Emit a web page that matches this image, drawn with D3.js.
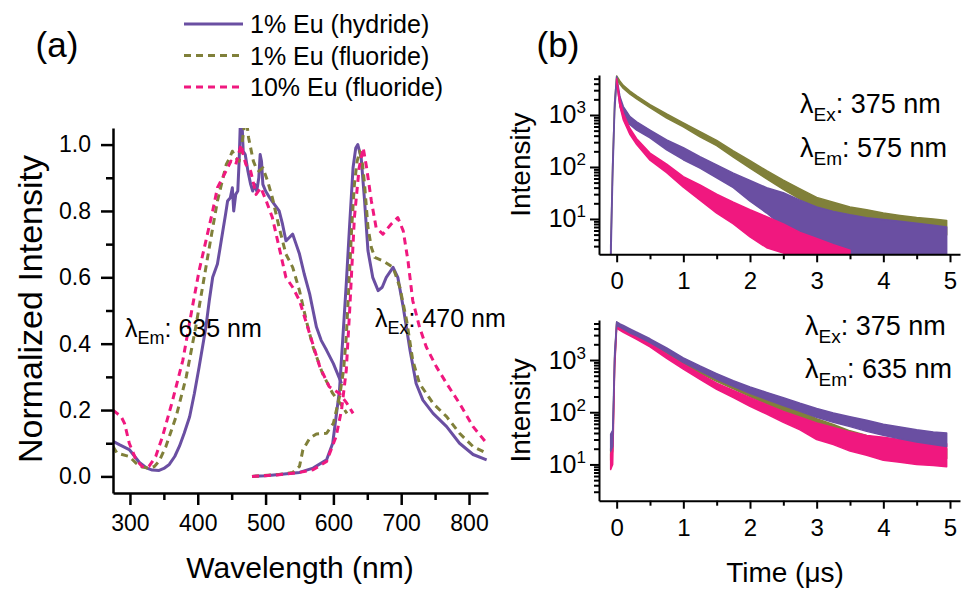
<!DOCTYPE html>
<html><head><meta charset="utf-8">
<script src="https://cdn.jsdelivr.net/npm/d3@7"></script>
<style>
body{margin:0;background:#fff}
svg{display:block}
text{font-family:"Liberation Sans",Arial,sans-serif;fill:#000}
</style>
</head><body>
<svg id="c" width="963" height="590"></svg>
<script>
// ---------------- Data: panel (a) ----------------
const seriesNames = ["1% Eu (hydride)", "1% Eu (fluoride)", "10% Eu (fluoride)"];

const hydrideExWl  = [275,285,299,314,325,333,343,350,358,366,373,380,388,395,402,407,412,417,422,429,433,437,441,444,448,451,453,456,459,461,463,465,467,470,474,478,481,484,487,490,492,494,496,500,506,513,520,525,530,535,540,545,550,557,565,570,575,582,590,600,612];
const hydrideExVal = [0.106,0.095,0.081,0.042,0.025,0.019,0.018,0.024,0.036,0.06,0.091,0.13,0.18,0.25,0.33,0.39,0.45,0.53,0.60,0.64,0.69,0.74,0.79,0.83,0.84,0.87,0.80,0.85,0.86,0.95,1.08,1.08,0.98,0.97,0.92,0.88,0.86,0.88,0.86,0.90,0.97,0.95,0.88,0.86,0.84,0.82,0.80,0.76,0.71,0.72,0.73,0.70,0.67,0.61,0.55,0.50,0.45,0.41,0.38,0.34,0.28];
const hydrideEmWl  = [480,500,520,550,570,590,599,604,609,614,619,624,629,633,636,641,646,651,658,666,672,678,688,695,703,713,722,732,747,767,786,806,826];
const hydrideEmVal = [0.0,0.002,0.006,0.012,0.025,0.05,0.10,0.18,0.26,0.42,0.58,0.76,0.93,0.99,1.0,0.96,0.83,0.68,0.60,0.56,0.57,0.60,0.63,0.60,0.51,0.38,0.28,0.23,0.19,0.15,0.10,0.066,0.05];

const fluoride1ExWl  = [275,281,299,309,318,328,336,343,353,368,383,397,407,417,429,442,447,451,456,461,465,469,472,475,478,482,486,490,496,503,510,520,530,540,550,560,570,584,599,610,620];
const fluoride1ExVal = [0.09,0.07,0.06,0.04,0.028,0.025,0.03,0.046,0.09,0.18,0.30,0.45,0.57,0.69,0.83,0.94,0.96,0.98,0.96,0.95,1.0,1.06,1.07,1.02,0.99,0.95,0.93,0.92,0.93,0.89,0.84,0.75,0.67,0.63,0.56,0.47,0.39,0.31,0.25,0.22,0.19];
const fluoride1EmWl  = [480,520,540,550,555,565,575,590,600,609,615,619,623,627,631,635,639,643,646,651,656,661,673,688,698,708,717,727,747,767,786,806,826];
const fluoride1EmVal = [0.0,0.006,0.012,0.03,0.08,0.115,0.128,0.13,0.16,0.24,0.32,0.42,0.58,0.75,0.88,0.95,0.98,0.94,0.88,0.75,0.69,0.66,0.65,0.63,0.57,0.47,0.35,0.28,0.22,0.18,0.13,0.09,0.07];

const fluoride10ExWl  = [275,281,287,292,299,309,318,328,338,348,363,378,392,402,412,422,429,439,449,456,460,464,467,471,478,486,493,501,510,520,530,540,550,565,580,594,609,620,629];
const fluoride10ExVal = [0.20,0.19,0.18,0.16,0.10,0.05,0.03,0.03,0.06,0.12,0.23,0.35,0.51,0.62,0.71,0.80,0.87,0.91,0.95,0.94,0.97,1.0,0.97,0.94,0.92,0.85,0.87,0.83,0.78,0.69,0.60,0.57,0.53,0.43,0.33,0.27,0.25,0.22,0.19];
const fluoride10EmWl  = [480,520,550,570,590,604,612,619,624,631,638,644,649,656,663,673,685,695,703,710,717,727,737,752,767,786,806,826];
const fluoride10EmVal = [0.0,0.005,0.012,0.02,0.045,0.12,0.20,0.32,0.50,0.78,0.93,0.99,0.93,0.83,0.75,0.73,0.76,0.78,0.74,0.65,0.53,0.45,0.39,0.33,0.28,0.22,0.15,0.10];

const wlTicks = [300,400,500,600,700,800];
const wlMinor = [350,450,550,650,750];
const normTicks = [0,0.2,0.4,0.6,0.8,1.0];
const normMinor = [0.1,0.3,0.5,0.7,0.9];

// ---------------- Data: panel (b) ----------------
const timeTop = [-0.09,-0.06,-0.03,0,0.05,0.1,0.2,0.3,0.5,0.75,1,1.25,1.5,1.75,2,2.25,2.5,2.75,3,3.25,3.5,3.75,4,4.25,4.5,4.75,4.95];
const hydrideTopLo = [1,60,1200,4500,1450,930,650,510,363,214,138,95,62,40,22,13,7,4,1,1,1,1,1,1,1,1,1];
const hydrideTopHi = [3,120,1800,5500,2240,1450,930,740,513,331,234,158,110,76,55,40,32,23,17,14,12,10.5,9.8,9,8.3,7.6,7.0];
const fluoride1TopLo = [1.8,89,1413,4898,3890,3236,2512,2042,1380,871,589,380,257,155,95,59,37,24,16,12,9.5,8,6.9,6.2,5.6,5.2,4.9];
const fluoride1TopHi = [2.2,112,1778,5623,4467,3715,2884,2344,1585,1047,708,479,324,204,132,85,56,38,26,21,17,15,13,11.7,10.7,10,9.3];
const fluoride10TopLo = [null,null,null,4300,1450,800,420,270,135,78,41,23,13,8,4.5,2.8,2.2,2.1,2.1,2.1,2.1,null,null,null,null,null,null];
const fluoride10TopHi = [null,null,null,5000,1900,1080,550,350,185,113,65,45,30,21,15,11,8,5.5,4.2,3.2,2.5,null,null,null,null,null,null];

const timeBot = [-0.09,-0.06,-0.03,0,0.05,0.1,0.2,0.3,0.5,0.75,1,1.25,1.5,1.75,2,2.25,2.5,2.75,3,3.25,3.5,3.75,4,4.25,4.5,4.75,4.95];
const hydrideBotLo = [18,22,900,4600,4250,3900,3300,2900,2150,1420,900,620,430,315,230,175,135,104,80,64,53,43,36,31,27,24,22];
const hydrideBotHi = [38,45,1400,5400,4900,4600,3950,3400,2550,1700,1100,770,550,400,305,240,190,148,118,97,82,70,59,52,46,42,40];
const fluoride1BotLo = [12,18,800,4500,4000,3700,3150,2700,2000,1290,830,560,390,280,200,145,105,76,53,40,30,24,20,17.5,15.5,14,13];
const fluoride1BotHi = [20,30,1200,5300,4600,4300,3800,3250,2400,1550,1000,680,470,340,250,182,138,104,75,58,44,36,30,26,23,21,20];
const fluoride10BotLo = [8,10,700,4100,3700,3400,2900,2500,1780,1080,670,425,275,190,130,92,64,46,30,24,18,15,12,11,10,9.5,9];
const fluoride10BotHi = [16,20,1100,4900,4400,4050,3400,2950,2100,1300,830,540,360,260,190,140,103,80,62,51,42,36,33,30,28,26,25];

const timeTicks = [0,1,2,3,4,5];
const timeMinor = [0.5,1.5,2.5,3.5,4.5];
const logTicks = [10,100,1000];
const logMinor = [3,4,5,6,7,8,9,20,30,40,50,60,70,80,90,200,300,400,500,600,700,800,900,2000,3000,4000,5000];

// ---------------- Styles ----------------
const COL = ["#6A4FA2", "#80803A", "#F0187F"];
const DASH = [null, "7,5", "7,5"];
const FF = '"Liberation Sans",Arial,sans-serif';

const svg = d3.select("#c");

function styleAxis(g, w) {
  g.select(".domain").attr("stroke", "#000").attr("stroke-width", w);
  g.selectAll(".tick line").attr("stroke", "#000").attr("stroke-width", w);
}

// ================= Panel (a) =================
const xA = d3.scaleLinear().domain([275, 828]).range([113, 488]);
const yA = d3.scaleLinear().domain([-0.05, 1.05]).range([493, 128]);

svg.append("clipPath").attr("id", "clipA").append("rect")
  .attr("x", xA.range()[0]).attr("y", yA.range()[1])
  .attr("width", xA.range()[1] - xA.range()[0]).attr("height", yA.range()[0] - yA.range()[1]);

const lineA = d3.line().x(d => xA(d[0])).y(d => yA(d[1]));
const specA = [
  [[hydrideExWl, hydrideExVal], [hydrideEmWl, hydrideEmVal]],
  [[fluoride1ExWl, fluoride1ExVal], [fluoride1EmWl, fluoride1EmVal]],
  [[fluoride10ExWl, fluoride10ExVal], [fluoride10EmWl, fluoride10EmVal]]
];
const gA = svg.append("g").attr("clip-path", "url(#clipA)");
specA.forEach((parts, i) => {
  parts.forEach(([w, v]) => {
    gA.append("path").attr("d", lineA(d3.zip(w, v)))
      .attr("fill", "none").attr("stroke", COL[i]).attr("stroke-width", 3)
      .attr("stroke-linejoin", "round")
      .attr("stroke-dasharray", DASH[i]);
  });
});

// axes (a)
const axAx = svg.append("g").attr("transform", `translate(0,${yA.range()[0]})`)
  .call(d3.axisBottom(xA).tickValues(wlTicks).tickSize(12).tickSizeOuter(0).tickPadding(10).tickFormat(d3.format("d")));
const axAxm = svg.append("g").attr("transform", `translate(0,${yA.range()[0]})`)
  .call(d3.axisBottom(xA).tickValues(wlMinor).tickSize(7).tickFormat(""));
axAxm.select(".domain").remove();
const axAy = svg.append("g").attr("transform", `translate(${xA.range()[0]},0)`)
  .call(d3.axisLeft(yA).tickValues(normTicks).tickSize(12).tickSizeOuter(0).tickPadding(10).tickFormat(d3.format(".1f")));
const axAym = svg.append("g").attr("transform", `translate(${xA.range()[0]},0)`)
  .call(d3.axisLeft(yA).tickValues(normMinor).tickSize(7).tickFormat(""));
axAym.select(".domain").remove();
[axAx, axAxm, axAy, axAym].forEach(g => styleAxis(g, 2.5));
[axAx, axAy].forEach(g => g.selectAll(".tick text").attr("font-size", 23).attr("font-family", FF).attr("fill", "#000"));

svg.append("text").attr("x", 300).attr("y", 578).attr("text-anchor", "middle").attr("font-size", 30).text("Wavelength (nm)");
svg.append("text").attr("transform", "translate(42,309) rotate(-90)").attr("text-anchor", "middle").attr("font-size", 34).text("Normalized Intensity");
svg.append("text").attr("x", 57).attr("y", 57).attr("text-anchor", "middle").attr("font-size", 35).text("(a)");
svg.append("text").attr("x", 558).attr("y", 57).attr("text-anchor", "middle").attr("font-size", 35).text("(b)");

function lambdaLabel(x, y, sub, rest, size) {
  const t = svg.append("text").attr("x", x).attr("y", y).attr("font-size", size);
  t.append("tspan").text("λ");
  t.append("tspan").attr("font-size", Math.round(size * 0.7)).attr("dy", Math.round(size * 0.28)).text(sub);
  t.append("tspan").attr("dy", -Math.round(size * 0.28)).text(rest);
}
lambdaLabel(125, 337, "Em", ": 635 nm", 25);
lambdaLabel(375, 327, "Ex", ": 470 nm", 25);

// legend
const leg = svg.append("g");
seriesNames.forEach((name, i) => {
  const yy = 24 + i * 31.5;
  leg.append("line").attr("x1", 184).attr("x2", 243).attr("y1", yy).attr("y2", yy)
    .attr("stroke", COL[i]).attr("stroke-width", 3).attr("stroke-dasharray", DASH[i]);
  leg.append("text").attr("x", 250).attr("y", yy + 9).attr("font-size", 25).text(name);
});

// ================= Panel (b) =================
const xB = d3.scaleLinear().domain([-0.265, 5.15]).range([599, 960]);

function panelB(yTop, yBot, dom, times, los, his, order, id, exTxtY, emTxtY, emTxt, txtX) {
  const y = d3.scaleLog().domain(dom).range([yBot, yTop]);
  svg.append("clipPath").attr("id", id).append("rect")
    .attr("x", xB.range()[0]).attr("y", yTop).attr("width", xB.range()[1] - xB.range()[0]).attr("height", yBot - yTop);
  const g = svg.append("g").attr("clip-path", `url(#${id})`);
  order.forEach(i => {
    const lo = los[i], hi = his[i];
    const area = d3.area()
      .defined((d, k) => lo[k] != null && hi[k] != null)
      .x((d, k) => xB(times[k]))
      .y0((d, k) => y(lo[k]))
      .y1((d, k) => y(hi[k]));
    g.append("path").attr("d", area(times))
      .attr("fill", COL[i]).attr("stroke", COL[i]).attr("stroke-width", 1.5).attr("stroke-linejoin", "round");
  });
  const ax = svg.append("g").attr("transform", `translate(0,${yBot})`)
    .call(d3.axisBottom(xB).tickValues(timeTicks).tickSize(8).tickSizeOuter(0).tickPadding(10).tickFormat(d3.format("d")));
  const axm = svg.append("g").attr("transform", `translate(0,${yBot})`)
    .call(d3.axisBottom(xB).tickValues(timeMinor).tickSize(5).tickFormat(""));
  axm.select(".domain").remove();
  const ay = svg.append("g").attr("transform", `translate(${xB.range()[0]},0)`)
    .call(d3.axisLeft(y).tickValues(logTicks).tickSize(9).tickSizeOuter(0).tickPadding(4).tickFormat(""));
  const aym = svg.append("g").attr("transform", `translate(${xB.range()[0]},0)`)
    .call(d3.axisLeft(y).tickValues(logMinor).tickSize(5).tickFormat(""));
  aym.select(".domain").remove();
  [ax, axm, ay, aym].forEach(a => styleAxis(a, 2));
  ax.selectAll(".tick text").attr("font-size", 24).attr("font-family", FF).attr("fill", "#000");
  ay.selectAll(".tick text").each(function(d) {
    const t = d3.select(this).attr("font-size", 25).attr("font-family", FF).attr("fill", "#000").text("10");
    t.append("tspan").attr("font-size", 17).attr("dy", -10).text(Math.round(Math.log10(d)));
  });
  svg.append("text").attr("transform", `translate(530,${(yTop + yBot) / 2}) rotate(-90)`).attr("text-anchor", "middle").attr("font-size", 28).text("Intensity");
  lambdaLabel(txtX, exTxtY, "Ex", ": 375 nm", 27);
  lambdaLabel(txtX, emTxtY, "Em", emTxt, 27);
}

panelB(75, 254.3, [2.09, 5880], timeTop,
  [hydrideTopLo, fluoride1TopLo, fluoride10TopLo], [hydrideTopHi, fluoride1TopHi, fluoride10TopHi],
  [1, 0, 2], "clipB1", 113, 157, ": 575 nm", 800);
panelB(320, 500.7, [2.02, 5840], timeBot,
  [hydrideBotLo, fluoride1BotLo, fluoride10BotLo], [hydrideBotHi, fluoride1BotHi, fluoride10BotHi],
  [1, 2, 0], "clipB2", 335, 378, ": 635 nm", 805);

svg.append("text").attr("x", 785).attr("y", 582).attr("text-anchor", "middle").attr("font-size", 28).text("Time (μs)");
</script>
</body></html>
